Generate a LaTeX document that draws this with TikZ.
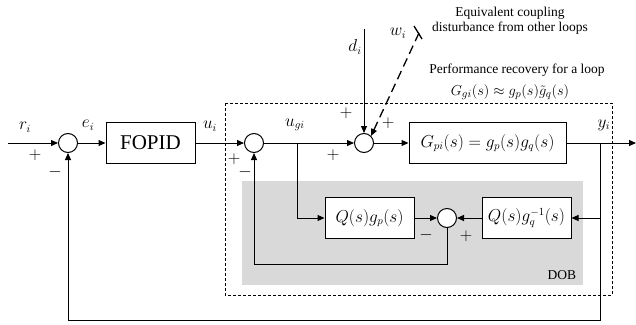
\documentclass[tikz,border=0pt]{standalone}
\usepackage{fontspec}
\setmainfont{Liberation Serif}
\usetikzlibrary{arrows.meta,calc,positioning}

\begin{document}
\begin{tikzpicture}[x=1pt,y=-1pt,line width=1pt,
		>={Triangle[length=7pt,width=6pt]},
		blk/.style={draw,fill=white,minimum width=89pt,minimum height=41pt,inner sep=0pt,
			font=\fontsize{16}{16}\selectfont},
		sumc/.style={draw,fill=white,circle,minimum size=19pt,inner sep=0pt},
		sgn/.style={font=\fontsize{16}{16}\selectfont},
		lbl/.style={font=\fontsize{16}{16}\selectfont},
		note/.style={font=\fontsize{13.5}{15.5}\selectfont,align=center}
	]
	\useasboundingbox (0,0) rectangle (636,324);
	%% DOB region and loop border
	\fill[gray!30] (242,181) rectangle (583,285);
	\draw[dash pattern=on 3pt off 2pt] (225,103) rectangle (612,295);
	\node[note,anchor=south east] (dob) at (580,283) {DOB};
	%% blocks
	\node[sumc] (s1) at (68,143) {};
	\node[blk,font=\fontsize{21}{21}\selectfont] (fopid) at (150.5,143) {FOPID};
	\node[sumc] (s2) at (254,143) {};
	\node[sumc] (s3) at (364,143) {};
	\node[blk,minimum width=157pt] (gp) at (487.5,143) {$G_{pi}(s)=g_{p}(s)g_{q}(s)$};
	\node[blk] (qgp) at (369.5,218) {$Q(s)g_{p}(s)$};
	\node[sumc] (s4) at (447,218) {};
	\node[blk] (qgq) at (526.5,218) {$Q(s)g_{q}^{-1}(s)$};
	%% free ends and branch points
	\coordinate (in) at (8,143);
	\coordinate (out) at (636,143);
	\coordinate (ybr) at (600,143);
	\coordinate (ubr) at (297,143);
	\coordinate (fbk) at (68,320);
	\coordinate (dobret) at (254,264);
	\coordinate (dtop) at (364,29);
	\coordinate (wtop) at (419,33);
	%% connectors
	\draw[->] (in) -- (s1);
	\draw[->] (s1) -- (fopid);
	\draw[->] (fopid) -- (s2);
	\draw[->] (s2) -- (s3);
	\draw[->] (s3) -- (gp);
	\draw[->] (gp) -- (out);
	\draw[->] (dtop) -- (s3);
	\draw[->,line width=1.3pt,dash pattern=on 9pt off 5pt] (wtop) -- (s3.north east);
	\draw[line width=1.3pt] (414,26) -- (422,39);
	\draw[->] (ubr) |- (qgp);
	\draw[->] (ybr) |- (qgq);
	\draw[->] (qgp) -- (s4);
	\draw[->] (qgq) -- (s4);
	\draw[->] (s4) |- (dobret) -- (s2);
	\draw[->] (ybr) |- (fbk) -- (s1);
	%% signals
	\node[lbl] (ri) at (25,127) {$r_{i}$};
	\node[lbl] (ei) at (88,125) {$e_{i}$};
	\node[lbl] (ui) at (210,126) {$u_{i}$};
	\node[lbl] (ugi) at (295,125) {$u_{gi}$};
	\node[lbl] (di) at (355,47) {$d_{i}$};
	\node[lbl] (wi) at (398,33) {$w_{i}$};
	\node[lbl] (yi) at (604,125) {$y_{i}$};
	%% signs
	\node[sgn] (p1) at (35,155) {$+$};
	\node[sgn] (m1) at (55,172) {$-$};
	\node[sgn] (p2) at (234,159) {$+$};
	\node[sgn] (m2) at (245,172) {$-$};
	\node[sgn] (p3) at (333,155) {$+$};
	\node[sgn] (p4) at (346,113) {$+$};
	\node[sgn] (p5) at (388,123) {$+$};
	\node[sgn] (m4) at (426,235) {$-$};
	\node[sgn] (p6) at (466,236) {$+$};
	%% notes
	\node[note] (eqc) at (510,21) {Equivalent coupling\\disturbance from other loops};
	\node[note,inner sep=1pt] (perf) at (517,70) {Performance recovery for a loop};
	\node[lbl,font=\fontsize{15}{15}\selectfont,inner sep=0pt] (gg) at (510,92) {$G_{gi}(s)\approx g_{p}(s)\tilde{g}_{q}(s)$};
\end{tikzpicture}
\end{document}
